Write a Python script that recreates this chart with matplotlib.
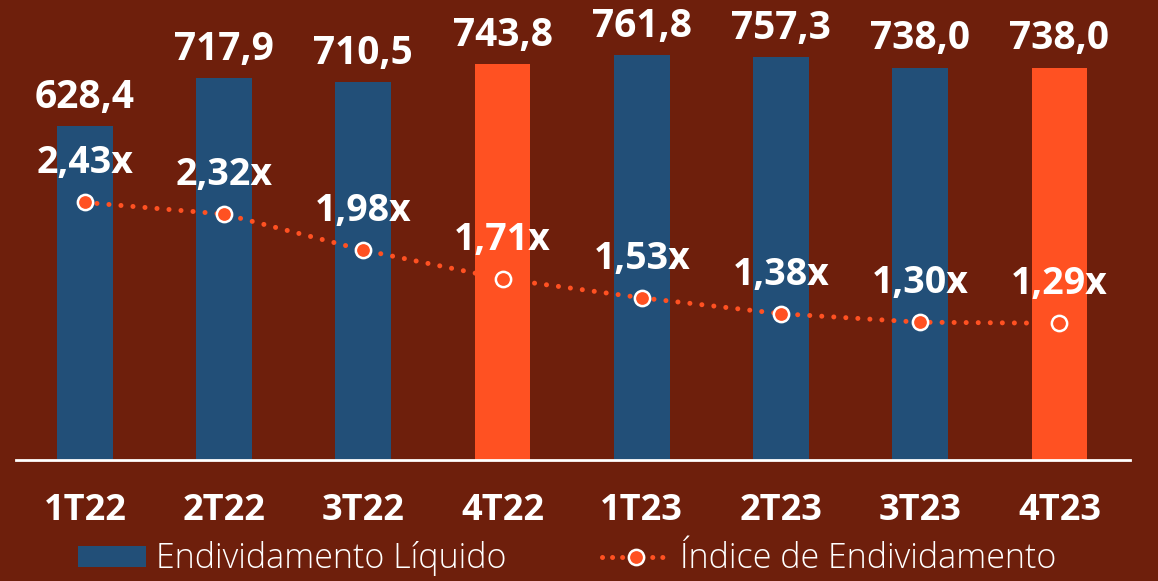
import matplotlib
matplotlib.use("Agg")
import matplotlib.pyplot as plt
from matplotlib.lines import Line2D
from matplotlib.patches import Patch

# data
quarters = ["1T22", "2T22", "3T22", "4T22", "1T23", "2T23", "3T23", "4T23"]
divida = [628.4, 717.9, 710.5, 743.8, 761.8, 757.3, 738.0, 738.0]
indice = [2.43, 2.32, 1.98, 1.71, 1.53, 1.38, 1.30, 1.29]
destaque = [False, False, False, True, False, False, False, True]

bg = "#6E1F0C"
blue = "#224F78"
orange = "#FF5122"

plt.rcParams["font.family"] = ["Open Sans", "DejaVu Sans"]

fig = plt.figure(figsize=(11.58, 5.81), dpi=100, facecolor=bg)
ax = fig.add_axes([16 / 1158, 121 / 581, 1114 / 1158, 460 / 581])
ax.set_facecolor(bg)

x = list(range(len(quarters)))
colors = [orange if d else blue for d in destaque]
ax.bar(x, divida, width=0.4, color=colors, zorder=2)
ax.set_xlim(-0.495, 7.507)
ax.set_ylim(0, 865)

for xi, v in zip(x, divida):
    ax.annotate(f"{v:.1f}".replace(".", ","), (xi, v), xytext=(0, 13),
                textcoords="offset points", ha="center", va="baseline",
                color="white", fontsize=28, fontweight="bold")

# spines / ticks
for s in ["top", "right", "left"]:
    ax.spines[s].set_visible(False)
ax.spines["bottom"].set_color("white")
ax.spines["bottom"].set_linewidth(2)
ax.set_yticks([])
ax.set_xticks(x)
ax.set_xticklabels(quarters, color="white", fontsize=26, fontweight="bold")
ax.tick_params(axis="x", length=0, pad=24)

# index line on secondary axis
ax2 = ax.twinx()
ax2.set_ylim(0, 4.34)
ax2.set_yticks([])
for s in ax2.spines.values():
    s.set_visible(False)
ax2.plot(x, indice, color=orange, linewidth=3.6, linestyle=(0, (0.01, 2.4)),
         dash_capstyle="round", zorder=3)
ax2.plot(x, indice, linestyle="none", marker="o", markersize=11,
         markerfacecolor=orange, markeredgecolor="white", markeredgewidth=1.8,
         zorder=4)
for xi, v in zip(x, indice):
    ax2.annotate(f"{v:.2f}x".replace(".", ","), (xi, v), xytext=(0, 21),
                 textcoords="offset points", ha="center", va="baseline",
                 color="white", fontsize=27, fontweight="bold")

# legend
handles = [
    Patch(facecolor=blue, edgecolor="none"),
    Line2D([0], [0], color=orange, linewidth=3.6, linestyle=(0, (0.01, 2.0)),
           dash_capstyle="round", marker="o", markersize=11,
           markerfacecolor=orange, markeredgecolor="white", markeredgewidth=1.8),
]
leg = fig.legend(handles, ["Endividamento Líquido", "Índice de Endividamento"],
                 loc="center", bbox_to_anchor=(0.49, 0.038), ncol=2,
                 frameon=False, fontsize=24.5, handlelength=2.0, handleheight=0.55,
                 columnspacing=2.8, handletextpad=0.3)
for t in leg.get_texts():
    t.set_color("white")
    t.set_fontweight("light")

fig.savefig("out.png", dpi=100, facecolor=bg)
